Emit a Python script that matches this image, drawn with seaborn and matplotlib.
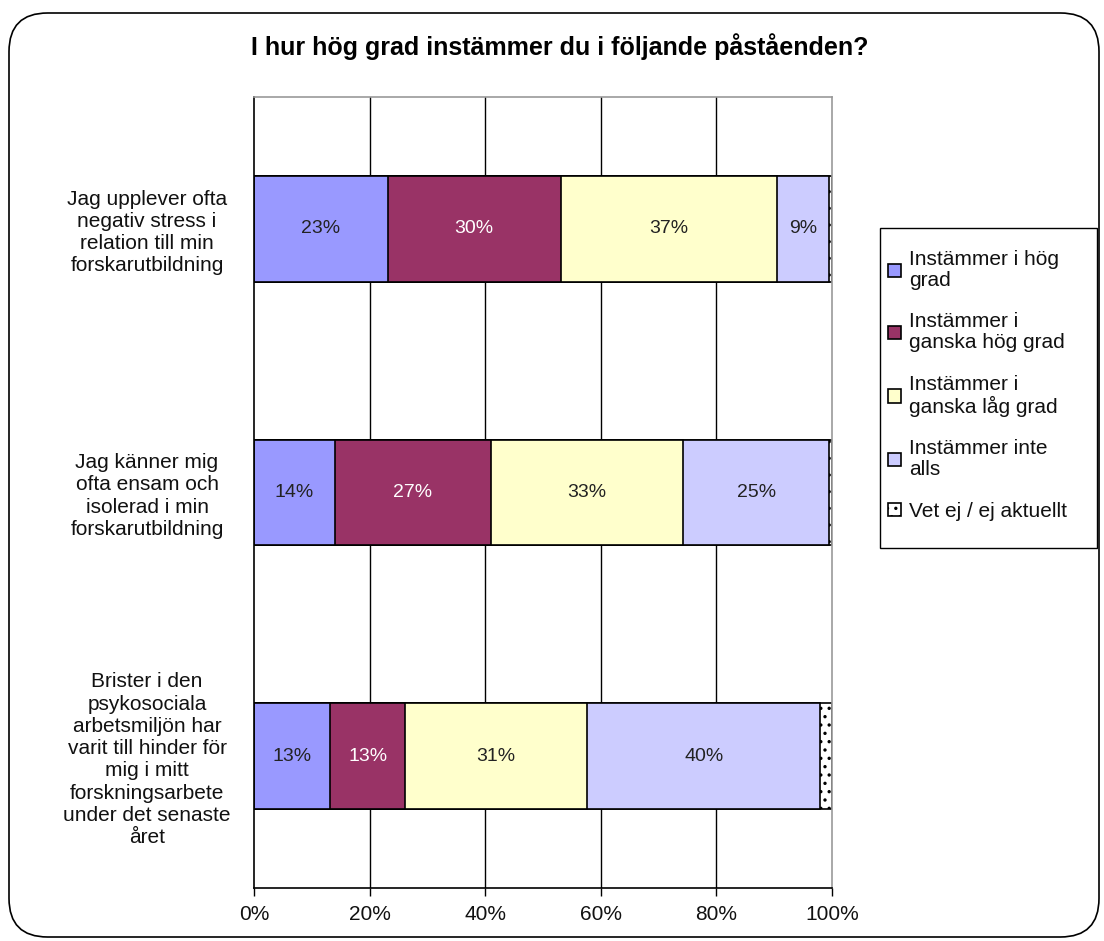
import numpy as np
import pandas as pd
import seaborn as sns
import matplotlib
matplotlib.use("Agg")
import matplotlib.pyplot as plt
from matplotlib.patches import FancyBboxPatch, Rectangle

sns.set_theme(style="white")
plt.rcParams['font.family'] = ['Liberation Sans', 'DejaVu Sans']
plt.rcParams['hatch.color'] = '#777777'
plt.rcParams['hatch.linewidth'] = 1.2

title = "I hur hög grad instämmer du i följande påståenden?"
categories = [
    "Jag upplever ofta\nnegativ stress i\nrelation till min\nforskarutbildning",
    "Jag känner mig\nofta ensam och\nisolerad i min\nforskarutbildning",
    "Brister i den\npsykosociala\narbetsmiljön har\nvarit till hinder för\nmig i mitt\nforskningsarbete\nunder det senaste\nåret",
]
series_names = [
    "Instämmer i hög\ngrad",
    "Instämmer i\nganska hög grad",
    "Instämmer i\nganska låg grad",
    "Instämmer inte\nalls",
    "Vet ej / ej aktuellt",
]
hog = [23.1, 14.0, 13.1]
ganska_hog = [30.0, 27.0, 13.1]
ganska_lag = [37.4, 33.3, 31.4]
inte_alls = [8.9, 25.2, 40.4]
vet_ej = [0.6, 0.5, 2.0]
values = [hog, ganska_hog, ganska_lag, inte_alls, vet_ej]
colors = ["#9999FF", "#993366", "#FFFFCC", "#CCCCFF", "#FFFFFF"]
label_colors = ["#222222", "white", "#222222", "#222222", None]
xticks = [0, 20, 40, 60, 80, 100]

W, H = 1104, 941
fig = plt.figure(figsize=(W / 100, H / 100), dpi=100)
border = FancyBboxPatch((9/W, 4/H), 1090/W, 924/H,
                        boxstyle="round,pad=0,rounding_size=0.035",
                        transform=fig.transFigure, facecolor="none",
                        edgecolor="black", linewidth=1.2, mutation_aspect=W/H)
fig.patches.append(border)

ax = fig.add_axes([254/W, 1 - 888/H, 578/W, (888-97)/H])

arr = np.array(values)
cum = np.cumsum(arr, axis=0)
# draw from largest cumulative (back) to smallest (front)
for k in range(len(series_names) - 1, -1, -1):
    df = pd.DataFrame({"cat": categories, "val": cum[k]})
    sns.barplot(data=df, x="val", y="cat", orient="h", color=colors[k],
                width=0.4, edgecolor="black", linewidth=1.2, ax=ax,
                saturation=1, label=series_names[k],
                hatch=".." if k == len(series_names) - 1 else None)

for k in range(len(series_names)):
    if label_colors[k] is None:
        continue
    for i in range(len(categories)):
        v = arr[k, i]
        ax.text(cum[k, i] - v / 2, i, f"{round(v):.0f}%", ha="center", va="center",
                fontsize=14, color=label_colors[k])

ax.set_xlim(0, 100)
ax.set_ylim(2.5, -0.5)
ax.set_xticks(xticks)
ax.set_xticklabels([f"{t}%" for t in xticks], fontsize=15, color="#111111")
ax.set_yticks([0, 1, 2])
ax.set_yticklabels(categories, fontsize=15, ha="center", color="#111111",
                   linespacing=1.22)
ax.tick_params(axis="y", length=0, pad=77)
ax.set_yticks([-0.5, 0.5, 1.5, 2.5], minor=True)
ax.tick_params(axis="y", which="minor", length=6, width=1, color="black", direction="out")
ax.tick_params(axis="x", length=6, width=1, color="black", direction="out", bottom=True, pad=6)
ax.set_xlabel("")
ax.set_ylabel("")
for x in xticks[1:-1]:
    ax.axvline(x, color="black", linewidth=1, zorder=0)
ax.spines["left"].set_color("black")
ax.spines["bottom"].set_color("black")
ax.spines["top"].set_color("#999999")
ax.spines["right"].set_color("#999999")
for s in ax.spines.values():
    s.set_linewidth(1.2)
    s.set_visible(True)

# legend frame
fig.patches.append(Rectangle((880/W, 1 - 548/H), (1097-880)/W, (548-228)/H,
                             transform=fig.transFigure, facecolor="white",
                             edgecolor="black", linewidth=1.0, zorder=0))
handles, labels = ax.get_legend_handles_labels()
order = [labels.index(n) for n in series_names]
leg = fig.legend([handles[i] for i in order], [labels[i] for i in order],
                 loc="upper left", bbox_to_anchor=(884/W, 1 - 246/H),
                 fontsize=15, frameon=False,
                 handlelength=0.6, handleheight=0.6, handletextpad=0.4,
                 labelspacing=1.08, borderpad=0.2, borderaxespad=0)
for t in leg.get_texts():
    t.set_linespacing(1.12)
    t.set_color("#111111")
if ax.get_legend() is not None:
    ax.get_legend().remove()

fig.text(560/W, 1 - 47/H, title, ha="center", va="center",
         fontsize=18, fontweight="bold", color="black")

fig.savefig("out.png", dpi=100)
